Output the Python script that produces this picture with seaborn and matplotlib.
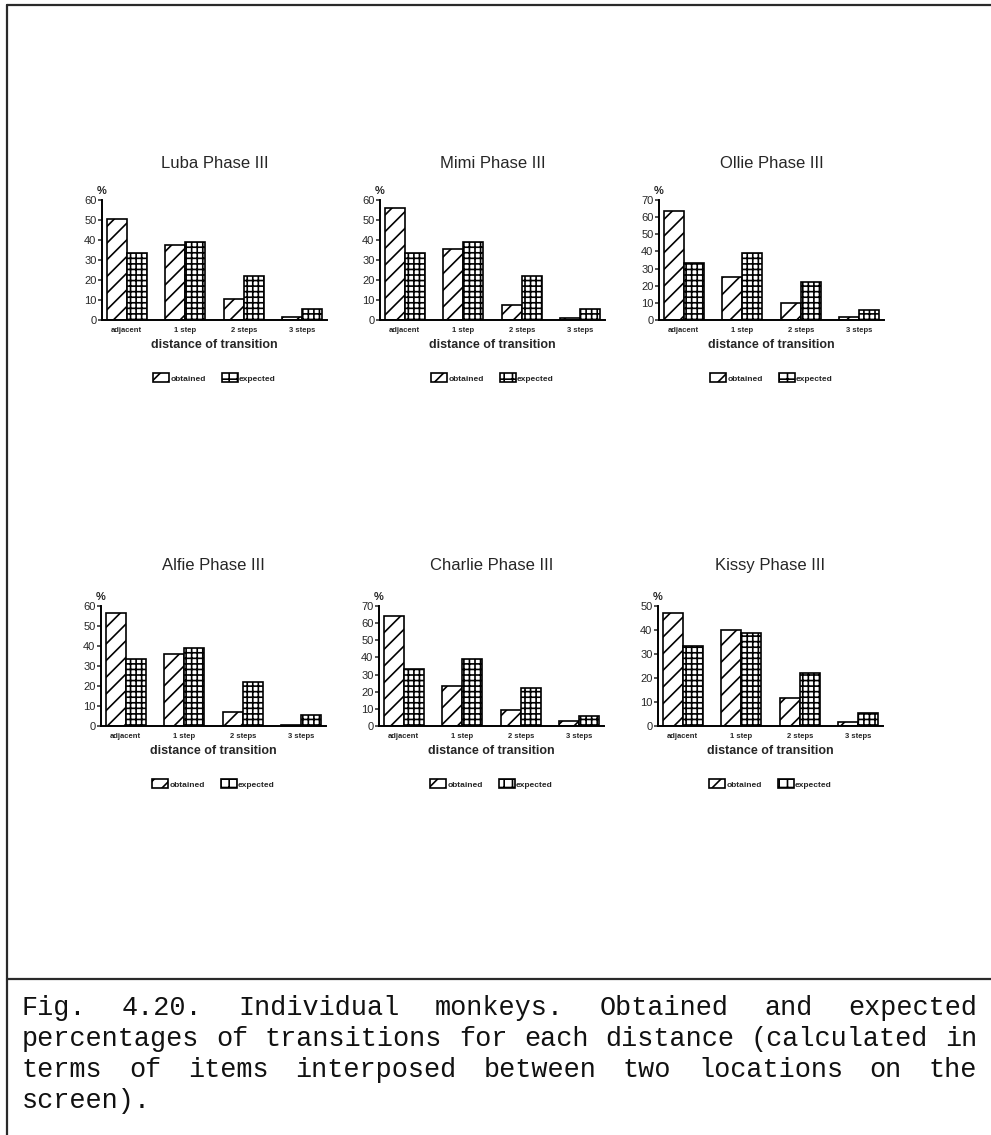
import matplotlib
matplotlib.use("Agg")
import matplotlib.pyplot as plt
from matplotlib.patches import Patch
from matplotlib.lines import Line2D
import pandas as pd
import seaborn as sns

# ---- data -------------------------------------------------------------
distances = ["adjacent", "1 step", "2 steps", "3 steps"]
series = ["obtained", "expected"]

# expected share of transitions per distance (same for every animal)
expected = [33.3, 38.9, 22.2, 5.6]

# obtained share of transitions per distance
luba = [50.5, 37.5, 10.5, 1.5]
mimi = [56.0, 35.5, 7.5, 1.0]
ollie = [63.5, 25.0, 10.0, 1.5]
alfie = [56.5, 36.0, 7.0, 0.5]
charlie = [64.0, 23.5, 9.5, 3.0]
kissy = [47.0, 40.0, 11.5, 1.5]

titles = ["Luba Phase III", "Mimi Phase III", "Ollie Phase III",
          "Alfie Phase III", "Charlie Phase III", "Kissy Phase III"]
obtained_sets = [luba, mimi, ollie, alfie, charlie, kissy]
y_tops = [60, 60, 70, 60, 70, 50]

caption_lines = [
    "Fig. 4.20. Individual monkeys. Obtained and expected",
    "percentages of transitions for each distance (calculated in",
    "terms of items interposed between two locations on the",
    "screen).",
]

# ---- style ------------------------------------------------------------
sns.set_style("ticks")
plt.rcParams["font.family"] = ["Liberation Sans", "DejaVu Sans"]
plt.rcParams["hatch.linewidth"] = 1.2
plt.rcParams["hatch.color"] = "black"

W, H = 991, 1135
fig = plt.figure(figsize=(W / 100, H / 100), dpi=100)
fig.patch.set_facecolor("white")

lefts = [102, 380, 659, 101, 379, 658]
baselines = [320, 320, 320, 726, 726, 726]
title_pads = [23, 23, 23, 26, 26, 26]
AX_W, AX_H = 225, 120
hatches = {"obtained": "//", "expected": "+++"}
# the small legend keys use a coarser grid so the pattern stays readable
key_hatches = {"obtained": "//", "expected": "++"}

for i in range(6):
    ax = fig.add_axes([lefts[i] / W, 1 - baselines[i] / H, AX_W / W, AX_H / H])
    df = pd.DataFrame({
        "distance": distances * 2,
        "pct": list(obtained_sets[i]) + list(expected),
        "series": ["obtained"] * 4 + ["expected"] * 4,
    })
    sns.barplot(data=df, x="distance", y="pct", hue="series",
                hue_order=series, order=distances,
                palette={"obtained": "white", "expected": "white"},
                saturation=1, edgecolor="black", linewidth=1.2,
                width=0.68, gap=0, errorbar=None, legend=False, ax=ax)
    for cont, name in zip(ax.containers, series):
        for bar in cont:
            bar.set_hatch(hatches[name])

    ax.set_xlim(-0.42, 3.42)
    ax.set_ylim(0, y_tops[i])
    ax.set_yticks(range(0, y_tops[i] + 1, 10))
    sns.despine(ax=ax)
    for side in ("left", "bottom"):
        ax.spines[side].set_linewidth(1.4)
        ax.spines[side].set_color("black")

    ax.tick_params(axis="x", length=0, pad=5, labelsize=5.5)
    ax.tick_params(axis="y", direction="out", length=3, width=1.1,
                   pad=1, labelsize=8)
    for lbl in ax.get_xticklabels():
        lbl.set_fontweight("bold")

    ax.set_ylabel("")
    ax.set_xlabel("distance of transition", fontsize=9, fontweight="bold",
                  labelpad=4)
    ax.set_title(titles[i], fontsize=12, pad=title_pads[i])
    ax.text(0.0, 1.03, "%", transform=ax.transAxes, ha="center",
            va="bottom", fontsize=8, fontweight="bold")

    handles = [Patch(facecolor="white", edgecolor="black",
                     hatch=key_hatches[s], linewidth=1.2, label=s)
               for s in series]
    leg = ax.legend(handles=handles, loc="center",
                    bbox_to_anchor=(0.5, -58 / AX_H), ncol=2, frameon=False,
                    fontsize=6, handlelength=1.9, handleheight=1.3,
                    handletextpad=0.15, columnspacing=1.9)
    for t in leg.get_texts():
        t.set_fontweight("bold")

# ---- page frame ---------------------------------------------------------
def px_line(x0, y0, x1, y1):
    fig.add_artist(Line2D([x0 / W, x1 / W], [1 - y0 / H, 1 - y1 / H],
                          transform=fig.transFigure, color="#2a2a2a",
                          linewidth=1.6))

px_line(7, 5, W, 5)
px_line(7, 5, 7, H)
px_line(7, 979, W, 979)

# ---- justified caption --------------------------------------------------
renderer = fig.canvas.get_renderer()
cap_x0, cap_x1 = 22, 977
cap_base = [1015, 1046, 1077, 1108]
cap_kw = dict(fontsize=19.4, family=["Liberation Mono", "DejaVu Sans Mono"],
              va="baseline", ha="left", color="#111111")

for j, line in enumerate(caption_lines):
    words = line.split()
    y = 1 - cap_base[j] / H
    if j == len(caption_lines) - 1:
        fig.text(cap_x0 / W, y, line, **cap_kw)
        continue
    items = [fig.text(0, y, w, **cap_kw) for w in words]
    widths = [t.get_window_extent(renderer).width for t in items]
    gap = (cap_x1 - cap_x0 - sum(widths)) / (len(words) - 1)
    x = cap_x0
    for t, w in zip(items, widths):
        t.set_x(x / W)
        x += w + gap

fig.savefig("out.png", dpi=100, facecolor="white")
